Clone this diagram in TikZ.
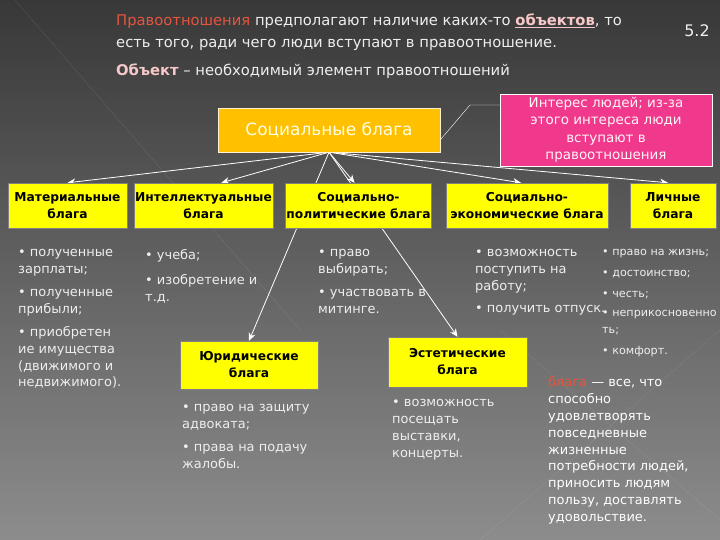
\documentclass[tikz,border=0pt]{standalone}
\usepackage{fontspec}
\setmainfont{DejaVu Sans}
\usetikzlibrary{positioning,arrows.meta,backgrounds}

\definecolor{goodyellow}{HTML}{FFFF00}
\definecolor{goodorange}{HTML}{FFC000}
\definecolor{interestpink}{HTML}{F0388C}
\definecolor{listgray}{HTML}{EEEEEE}
\definecolor{lawred}{HTML}{E4553F}
\definecolor{objpink}{HTML}{F6C8C8}

\begin{document}
\begin{tikzpicture}[
    x=1bp, y=-1bp,
    font=\fontsize{13}{17}\selectfont,
    good_box/.style={draw=black!50, fill=goodyellow, text=black, align=center, inner sep=1pt, minimum height=45bp, font=\bfseries\fontsize{12.3}{17}\selectfont},
    main_box/.style={draw=white!80!goodorange, fill=goodorange, text=white!90!yellow, minimum width=222bp, minimum height=44bp, font=\fontsize{17}{20}\selectfont},
    note_box/.style={draw=white, fill=interestpink, text=white!85!pink, align=center, minimum width=212bp, minimum height=72bp, inner sep=1pt, font=\fontsize{13.5}{17.5}\selectfont},
    list_text/.style={anchor=north west, align=left, text=listgray, inner sep=0pt},
    arrow/.style={-{Stealth[length=8pt,width=7pt]}, thick, white}
]

\useasboundingbox (0,0) rectangle (720,540);
\begin{scope}[on background layer]
    \shade[top color=black!78, bottom color=black!45] (0,0) rectangle (720,540);
    \draw[white, opacity=0.12] (15,0) -- (300,330);
    \draw[white, opacity=0.10] (480,540) -- (720,330);
    \draw[white, opacity=0.10] (500,330) -- (720,520);
\end{scope}

% HEADER
\node[anchor=north west, align=left, text=listgray, inner sep=0pt, font=\fontsize{14.8}{22}\selectfont] (head) at (116,14)
    {\textcolor{lawred}{Правоотношения} предполагают наличие каких-то \textcolor{objpink}{\bfseries\underline{объектов}}, то\\
     есть того, ради чего люди вступают в правоотношение.};
\node[text=listgray, font=\fontsize{16}{18}\selectfont] (num) at (697,31) {5.2};
\node[anchor=north west, text=listgray, inner sep=0pt, font=\fontsize{14.8}{16}\selectfont] (objdef) at (116,64)
    {\textcolor{objpink}{\bfseries Объект} -- необходимый элемент правоотношений};

% SOCIAL GOODS
\node[main_box] (soc) at (329,130) {Социальные блага};
\node[note_box] (interest) at (606,130) {Интерес людей; из-за\\этого интереса люди\\вступают в\\правоотношения};
\coordinate (bend) at (470,105);
\draw[white, thin] (interest.west |- bend) -- (bend) -- ([yshift=-10pt]soc.east);

% KINDS OF GOODS
\node[good_box, minimum width=119bp] (mat) at (67.5,205.5) {Материальные\\блага};
\node[good_box, minimum width=137bp] (intel) at (203.5,205.5) {Интеллектуальные\\блага};
\node[good_box, minimum width=143bp] (socpol) at (358.5,205.5) {Социально-\\политические блага};
\node[good_box, minimum width=162bp] (socecon) at (527,205.5) {Социально-\\экономические блага};
\node[good_box, minimum width=86bp] (pers) at (673,205.5) {Личные\\блага};
\node[good_box, minimum width=138bp, minimum height=48bp] (jur) at (249,365) {Юридические\\блага};
\node[good_box, minimum width=139bp, minimum height=50bp] (est) at (457.5,362) {Эстетические\\блага};

% LISTS
\node[list_text] (matlist) at (18,249) {• полученные\\зарплаты;\\[6pt]• полученные\\прибыли;\\[6pt]• приобретен\\ие имущества\\(движимого и\\недвижимого).};
\node[list_text] (intellist) at (145,249) {• учеба;\\[8pt]• изобретение и\\т.д.};
\node[list_text] (socpollist) at (318,249) {• право\\выбирать;\\[6pt]• участвовать в\\митинге.};
\node[list_text] (socEconlist) at (475,249) {• возможность\\поступить на\\работу;\\[5pt]• получить отпуск.};
\node[list_text, font=\fontsize{11.2}{17}\selectfont] (perslist) at (602,249) {• право на жизнь;\\[4pt]• достоинство;\\[4pt]• честь;\\[2pt]• неприкосновенно\\ть;\\[4pt]• комфорт.};
\node[list_text] (jurlist) at (182,404) {• право на защиту\\адвоката;\\[6pt]• права на подачу\\жалобы.};
\node[list_text] (estlist) at (392,399) {• возможность\\посещать\\выставки,\\концерты.};
\node[list_text, text=white] (gooddef) at (548,376) {\textcolor{lawred}{блага} — все, что\\способно\\удовлетворять\\повседневные\\жизненные\\потребности людей,\\приносить людям\\пользу, доставлять\\удовольствие.};

% ARROWS
\begin{scope}[on background layer]
\draw[arrow] (soc.south) -- (mat.north);
\draw[arrow] (soc.south) -- ([xshift=18pt]intel.north);
\draw[arrow] (soc.south) -- ([xshift=-4pt]socpol.north);
\draw[arrow] (soc.south) -- ([xshift=-6pt]socecon.north);
\draw[arrow] (soc.south) -- ([xshift=-5pt]pers.north);
\draw[arrow] (soc.south) -- (jur.north);
\draw[arrow] (soc.south) -- (est.north);
\end{scope}

\end{tikzpicture}
\end{document}
